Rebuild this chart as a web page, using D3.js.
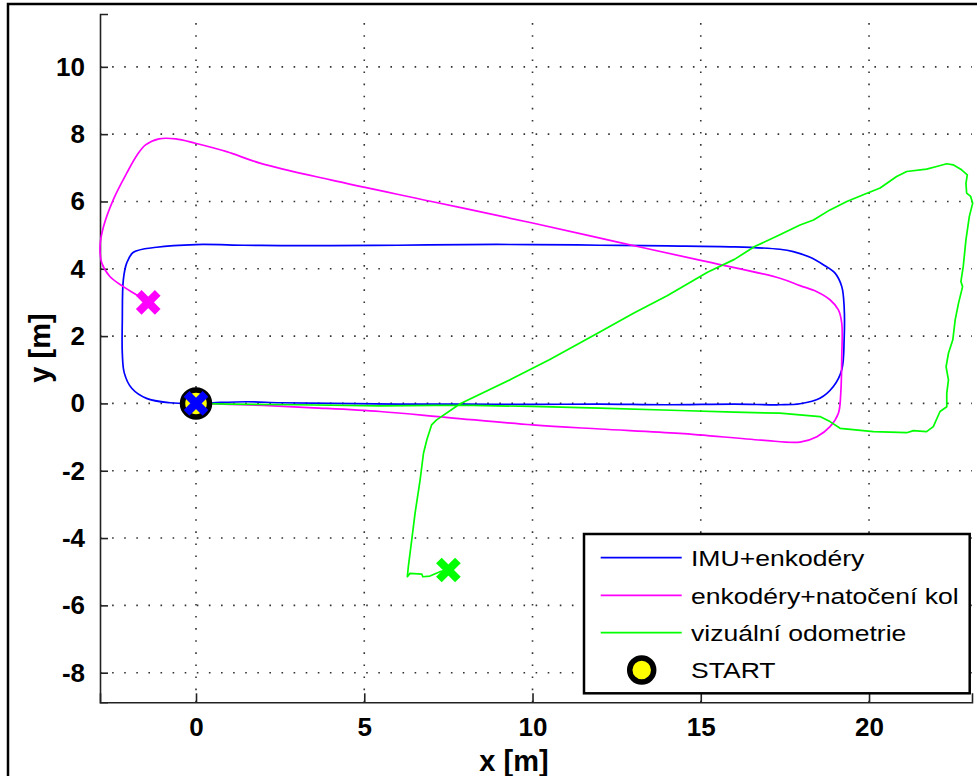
<!DOCTYPE html>
<html>
<head>
<meta charset="utf-8">
<script src="https://cdn.jsdelivr.net/npm/d3@7"></script>
<style>
  html, body { margin: 0; padding: 0; background: #fff; overflow: hidden; }
  svg { display: block; }
  text { font-family: "Liberation Sans", Arial, sans-serif; fill: #000; }
</style>
</head>
<body>
<svg id="chart" width="977" height="776"></svg>
<script>
// Trajectory estimates of the vehicle [m]
const imuX = [0, 0.5, 1.5, 2.5, 4, 6, 8, 10, 12, 14, 16, 17.35, 17.95, 18.54, 18.94, 19.19, 19.26, 19.26, 19.19, 18.99, 18.64, 18.25, 17.75, 17.35, 16, 14, 12, 10, 8, 6, 4, 2.5, 1.41, 0, -1.17, -1.86, -2.06, -2.16, -2.19, -2.19, -2.13, -1.91, -1.47, -0.77, 0];
const imuY = [0, 0.02, 0.05, 0.02, 0.0, -0.02, -0.02, -0.03, -0.02, -0.04, -0.02, -0.04, -0.01, 0.15, 0.5, 1.0, 1.89, 2.88, 3.47, 3.87, 4.12, 4.34, 4.51, 4.58, 4.65, 4.68, 4.7, 4.72, 4.72, 4.7, 4.69, 4.69, 4.7, 4.72, 4.64, 4.49, 4.17, 3.67, 2.48, 1.49, 0.9, 0.45, 0.15, 0.02, 0];

const encX = [0, 1, 2, 3.5, 5.47, 7.5, 10, 12, 14.38, 16.8, 17.95, 18.45, 18.84, 19.09, 19.16, 19.19, 19.19, 19.09, 18.84, 18.45, 17.95, 17.35, 15, 12.5, 10, 7, 4.0, 1.9, 0.91, -0.02, -0.6, -1.1, -1.5, -1.75, -2.06, -2.46, -2.75, -2.85, -2.80, -2.56, -2.16, -1.76, -1.42];
const encY = [0, -0.03, -0.06, -0.13, -0.24, -0.42, -0.64, -0.76, -0.89, -1.09, -1.15, -0.99, -0.69, -0.29, 0.3, 1.39, 2.38, 2.78, 3.08, 3.32, 3.5, 3.72, 4.25, 4.8, 5.36, 6.0, 6.64, 7.14, 7.48, 7.73, 7.86, 7.86, 7.68, 7.38, 6.84, 6.05, 5.25, 4.7, 4.17, 3.77, 3.47, 3.22, 3.0];

const visX = [0, 1, 3, 5.47, 7.85, 9.98, 12, 14.38, 16, 17.35, 18.54, 18.84, 19.14, 20.13, 21.12, 21.32, 21.71, 21.91, 22.11, 22.31, 22.31, 22.36, 22.29, 22.36, 22.49, 22.56, 22.66, 22.78, 22.73, 22.80, 22.88, 22.98, 23.08, 23.02, 22.90, 22.88, 22.92, 22.75, 22.50, 22.31, 22.01, 21.71, 21.12, 20.82, 20.33, 19.83, 19.34, 18.84, 18.35, 17.95, 17.35, 16.6, 16, 15.2, 14, 13, 12, 10.5, 9.33, 7.85, 7.15, 7.0, 6.86, 6.76, 6.66, 6.51, 6.41, 6.31, 6.28, 6.36, 6.71, 6.74, 6.95, 7.25, 7.5];
const visY = [0, -0.02, -0.04, -0.07, -0.05, -0.09, -0.14, -0.21, -0.26, -0.29, -0.39, -0.54, -0.74, -0.84, -0.87, -0.81, -0.84, -0.69, -0.24, -0.10, 0.30, 0.70, 1.09, 1.49, 1.89, 2.48, 2.98, 3.47, 3.62, 4.07, 4.86, 5.55, 5.95, 6.15, 6.25, 6.54, 6.79, 6.94, 7.09, 7.12, 7.04, 6.96, 6.89, 6.74, 6.40, 6.20, 6.00, 5.75, 5.45, 5.30, 5.01, 4.66, 4.28, 3.9, 3.2, 2.68, 2.12, 1.3, 0.70, -0.01, -0.49, -0.64, -1.08, -1.48, -2.27, -3.26, -4.06, -4.85, -5.15, -5.05, -5.07, -5.15, -5.13, -5.0, -4.95];

const seriesNames = ["IMU+enkodéry", "enkodéry+natočení kol", "vizuální odometrie"];
const seriesColors = ["#0000ff", "#ff00ff", "#00ff00"];
const startLabel = "START";

const xTicks = [0, 5, 10, 15, 20];
const yTicks = [-8, -6, -4, -2, 0, 2, 4, 6, 8, 10];
const xDomain = [-2.853, 23.06];
const yDomain = [-8.88, 11.57];

const svg = d3.select("#chart");

// outer figure frame
svg.append("rect")
  .attr("x", 8).attr("y", 4).attr("width", 1000).attr("height", 800)
  .attr("fill", "none").attr("stroke", "#000").attr("stroke-width", 2.5);

const x = d3.scaleLinear().domain(xDomain).range([100, 972]);
const y = d3.scaleLinear().domain(yDomain).range([702.3, 14]);

// dotted grid
const grid = svg.append("g").attr("stroke", "#333").attr("stroke-width", 1.6)
  .attr("stroke-dasharray", "1.6,10.5");
grid.selectAll("line.gx").data(xTicks).join("line")
  .attr("x1", d => x(d)).attr("x2", d => x(d))
  .attr("y1", y(yDomain[0])).attr("y2", y(yDomain[1]));
grid.selectAll("line.gy").data(yTicks).join("line")
  .attr("y1", d => y(d)).attr("y2", d => y(d))
  .attr("x1", x(xDomain[0])).attr("x2", x(xDomain[1]));

// axes with inward ticks; plain hyphen for negative labels
const fmt = d => String(d);
const xAxis = svg.append("g").attr("transform", `translate(0,${y(yDomain[0])})`)
  .call(d3.axisBottom(x).tickValues(xTicks).tickSize(-9).tickPadding(15).tickFormat(fmt));
const yAxis = svg.append("g").attr("transform", `translate(${x(xDomain[0])},0)`)
  .call(d3.axisLeft(y).tickValues(yTicks).tickSize(-8).tickPadding(15).tickFormat(fmt));
[xAxis, yAxis].forEach(g => {
  g.select(".domain").attr("stroke", "#222").attr("stroke-width", 1.6);
  g.selectAll(".tick line").attr("stroke", "#222").attr("stroke-width", 1.6);
  g.selectAll(".tick text").attr("font-size", 26).attr("font-weight", "bold")
    .attr("font-family", "'Liberation Sans', Arial, sans-serif").attr("fill", "#000");
});
xAxis.selectAll(".tick text").attr("dy", "0.71em");

// axis titles
svg.append("text").attr("x", 514).attr("y", 771).attr("text-anchor", "middle")
  .attr("font-size", 29).attr("font-weight", "bold").text("x [m]");
svg.append("text").attr("transform", "translate(50,348) rotate(-90)")
  .attr("text-anchor", "middle").attr("font-size", 29).attr("font-weight", "bold").text("y [m]");

// trajectories
const series = [
  { xs: imuX, ys: imuY, curve: d3.curveCatmullRom },
  { xs: encX, ys: encY, curve: d3.curveCatmullRom },
  { xs: visX, ys: visY, curve: d3.curveLinear }
];
const plot = svg.append("g");
series.forEach((s, i) => {
  const pts = s.xs.map((v, k) => [v, s.ys[k]]);
  plot.append("path")
    .attr("d", d3.line().x(d => x(d[0])).y(d => y(d[1])).curve(s.curve)(pts))
    .attr("fill", "none").attr("stroke", seriesColors[i]).attr("stroke-width", 1.7)
    .attr("stroke-linejoin", "round");
});

// start marker
plot.append("circle").attr("cx", x(imuX[0])).attr("cy", y(imuY[0])).attr("r", 13.5)
  .attr("fill", "#ffff00").attr("stroke", "#000").attr("stroke-width", 5.5);

// end markers (crosses)
const cross = (g, cx, cy, color) => {
  const h = 9.5;
  g.append("path")
    .attr("d", `M${cx - h},${cy - h}L${cx + h},${cy + h}M${cx - h},${cy + h}L${cx + h},${cy - h}`)
    .attr("stroke", color).attr("stroke-width", 8).attr("fill", "none");
};
series.forEach((s, i) => {
  const n = s.xs.length - 1;
  cross(plot, x(s.xs[n]), y(s.ys[n]), seriesColors[i]);
});

// legend
const lg = svg.append("g");
lg.append("rect").attr("x", 584).attr("y", 534).attr("width", 385.7).attr("height", 159.3)
  .attr("fill", "#fff").attr("stroke", "#000").attr("stroke-width", 2.5);
const rowY = [557.7, 595.3, 632.7, 670];
const legendText = (label, yy) => lg.append("text")
  .attr("transform", `translate(691,${yy + 8.3}) scale(1.18,1)`)
  .attr("font-size", 22.5).text(label);
seriesNames.forEach((name, i) => {
  lg.append("line").attr("x1", 600.7).attr("x2", 681.7).attr("y1", rowY[i]).attr("y2", rowY[i])
    .attr("stroke", seriesColors[i]).attr("stroke-width", 1.8);
  legendText(name, rowY[i]);
});
lg.append("circle").attr("cx", 641.7).attr("cy", rowY[3]).attr("r", 12)
  .attr("fill", "#ffff00").attr("stroke", "#000").attr("stroke-width", 5.5);
legendText(startLabel, rowY[3]);
</script>
</body>
</html>
